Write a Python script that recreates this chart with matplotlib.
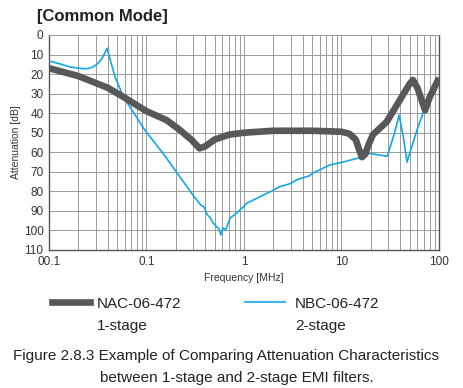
import matplotlib.pyplot as plt
from matplotlib.lines import Line2D
from matplotlib.ticker import LogLocator, NullFormatter

plt.rcParams['font.family'] = ['Liberation Sans', 'DejaVu Sans']

# NAC-06-472 (1-stage) attenuation
nac_freq = [0.01, 0.02, 0.04, 0.058, 0.1, 0.16, 0.22, 0.29, 0.35, 0.4, 0.5, 0.7,
            1.0, 2.0, 5.0, 10.0, 12.0, 14.0, 15.0, 16.2, 17.5, 19.0, 21.0, 29.0,
            40.0, 50.0, 54.0, 60.0, 72.0, 80.0, 100.0]
nac_db = [17, 21, 27, 31.7, 39, 43.5, 48.6, 53.7, 58, 57, 53.5, 51,
          50, 49, 49, 49.5, 50.5, 53.5, 58, 62.5, 61, 56, 51, 44.5,
          33, 25, 23, 27, 38.5, 32, 22]

# NBC-06-472 (2-stage) attenuation
nbc_freq = [0.01, 0.013, 0.016, 0.02, 0.024, 0.028, 0.031, 0.034, 0.036, 0.038,
            0.0394, 0.041, 0.0476, 0.058, 0.096,
            0.15, 0.22, 0.3, 0.36, 0.39, 0.42, 0.45, 0.48, 0.52, 0.55, 0.58, 0.61,
            0.65, 0.68, 0.72, 0.8, 0.91, 0.98, 1.07, 1.3, 1.56, 1.9, 2.3, 3.0,
            3.5, 4.7, 5.1, 7.6, 10.4, 14.8, 19.6, 25.0, 29.5, 35.0, 39.0, 43.0,
            47.0, 60.0, 69.0, 80.0, 100.0]
nbc_db = [13.3, 14.8, 16.2, 17, 17.3, 16.5, 15, 12.8, 10.8, 8.3,
          6.8, 10, 21.5, 31.7, 48.6,
          61, 72.6, 82, 87, 88, 92, 93.5, 96, 98, 99, 102.3, 98.7,
          99.7, 97, 93.6, 92, 89.5, 88, 86, 84, 82, 80, 77.7, 76,
          74, 72, 70.6, 66.5, 65, 63, 60.6, 61.5, 62, 50, 41, 52,
          65, 48, 39.6, 32, 22]

x_ticks = [0.01, 0.1, 1, 10, 100]
x_labels = ['00.1', '0.1', '1', '10', '100']
y_ticks = list(range(0, 111, 10))

fig = plt.figure(figsize=(4.64, 3.88), dpi=100)
ax = fig.add_axes([0.1056, 0.3557, 0.8405, 0.5541])

ax.plot(nbc_freq, nbc_db, color='#12a8e6', lw=1.2, zorder=3)
ax.plot(nac_freq, nac_db, color='#58585a', lw=4.8, zorder=4,
        solid_capstyle='butt', solid_joinstyle='round')

ax.set_xscale('log')
ax.set_xlim(0.01, 100)
ax.set_ylim(110, 0)
ax.set_xticks(x_ticks)
ax.set_xticklabels(x_labels)
ax.xaxis.set_minor_locator(LogLocator(base=10, subs=range(2, 10)))
ax.xaxis.set_minor_formatter(NullFormatter())
ax.set_yticks(y_ticks)
ax.tick_params(which='both', length=0, labelsize=8.5, colors='#333333', pad=4)
ax.grid(True, which='both', color='#9a9a9a', lw=0.7)
for side in ['left', 'bottom', 'right']:
    ax.spines[side].set_color('#555555')
    ax.spines[side].set_linewidth(1.0)
ax.spines['top'].set_color('#9a9a9a')
ax.spines['top'].set_linewidth(0.7)

ax.set_xlabel('Frequency [MHz]', fontsize=7.5, color='#333333', labelpad=4)
ax.set_ylabel('Attenuation [dB]', fontsize=7.5, color='#333333', labelpad=2)

fig.text(0.08, 0.945, '[Common Mode]', fontsize=12, fontweight='bold',
         color='#222222', va='baseline')

# legend drawn by hand so the line sits beside the first text row
fig.add_artist(Line2D([0.112, 0.194], [0.222, 0.222], color='#58585a', lw=4.8,
                      transform=fig.transFigure))
fig.add_artist(Line2D([0.528, 0.614], [0.222, 0.222], color='#12a8e6', lw=1.2,
                      transform=fig.transFigure))
fig.text(0.209, 0.206, 'NAC-06-472', fontsize=11, color='#222222', va='baseline')
fig.text(0.209, 0.149, '1-stage', fontsize=11, color='#222222', va='baseline')
fig.text(0.636, 0.206, 'NBC-06-472', fontsize=11, color='#222222', va='baseline')
fig.text(0.636, 0.149, '2-stage', fontsize=11, color='#222222', va='baseline')

cap_font = ['Liberation Sans Narrow', 'Liberation Sans', 'DejaVu Sans']
fig.text(0.488, 0.072, 'Figure 2.8.3 Example of Comparing Attenuation Characteristics',
         fontsize=11, family=cap_font, ha='center', va='baseline', color='#222222')
fig.text(0.511, 0.015, 'between 1-stage and 2-stage EMI filters.',
         fontsize=11, family=cap_font, ha='center', va='baseline', color='#222222')

fig.savefig('out.png', dpi=100)
